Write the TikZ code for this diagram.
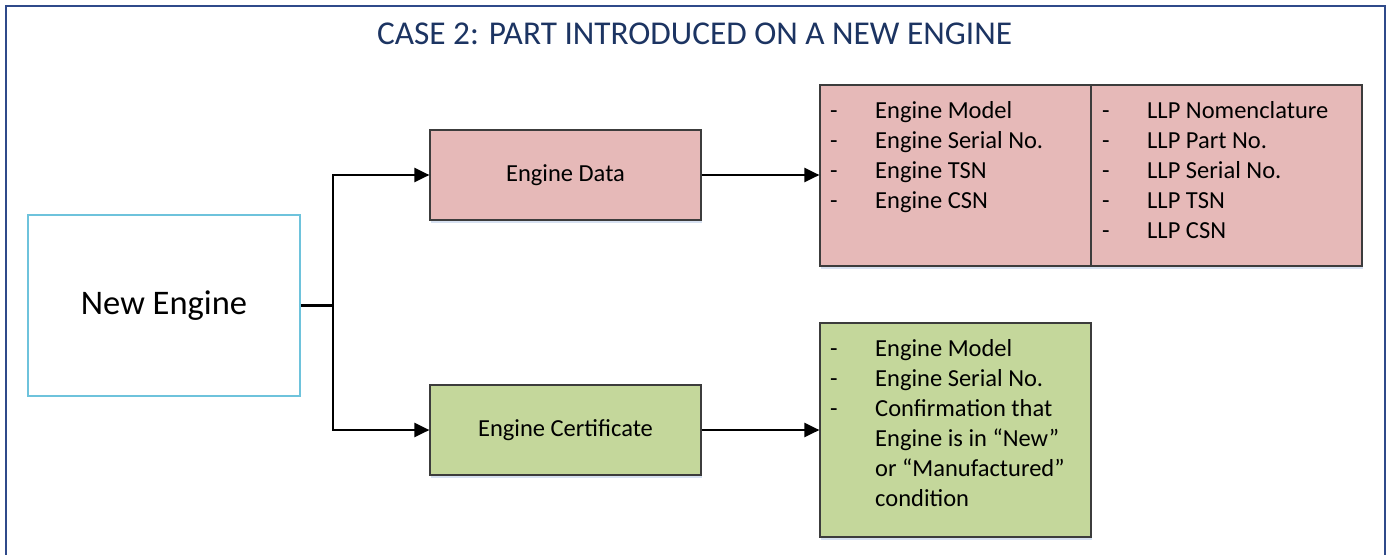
\documentclass[tikz,border=0pt]{standalone}
\usepackage{fontspec}
\setmainfont{Carlito}
\usetikzlibrary{arrows.meta,shadows}
\definecolor{framebl}{RGB}{47,74,138}
\definecolor{titlebl}{RGB}{28,52,98}
\definecolor{cyanline}{RGB}{110,195,220}
\definecolor{rosefill}{RGB}{230,185,184}
\definecolor{olivefill}{RGB}{196,215,155}
\definecolor{boxline}{RGB}{60,60,60}
\definecolor{shadowbl}{RGB}{205,218,238}
\newcommand{\bodyfont}{\fontsize{24.5}{30}\selectfont}
\begin{document}
\begin{tikzpicture}[x=1pt,y=-1pt,
  box/.style={draw=boxline, line width=1.2pt, inner sep=0pt,
    drop shadow={shadow xshift=1pt, shadow yshift=-3pt, fill=shadowbl, opacity=0.8}},
  stagebox/.style={box, minimum width=271pt, minimum height=90pt, font=\bodyfont,
    text height=17pt, text depth=5pt},
  listtext/.style={anchor=north west, inner sep=0pt, font=\bodyfont},
  link/.style={line width=2.4pt, -{Triangle[length=15pt,width=14pt]}},
  bus/.style={line width=2.4pt}]
\useasboundingbox (0,0) rectangle (1386,554);
\fill[white] (0,0) rectangle (1386,554);

% outer frame, open at the bottom
\draw[framebl, line width=2.5pt] (6,560) -- (6,6) -- (1385,6) -- (1385,560);

% title
\node[text=titlebl, font=\fontsize{33.3}{38}\selectfont] (title) at (694.5,34) {CASE 2: PART INTRODUCED ON A NEW ENGINE};

% source
\node[draw=cyanline, line width=1.6pt, minimum width=272pt, minimum height=181pt,
  font=\fontsize{34.5}{40}\selectfont] (engine) at (164,305.5) {New Engine};

% stages
\node[stagebox, fill=rosefill] (data) at (565.5,175) {Engine Data};
\node[stagebox, fill=olivefill] (cert) at (565.5,430) {Engine Certificate};

% detail boxes
\node[box, fill=rosefill, minimum width=542pt, minimum height=181pt] (datalist) at (1091,175.5) {};
\draw[boxline, line width=1.2pt] (datalist.north) -- (datalist.south);
\node[box, fill=olivefill, minimum width=271pt, minimum height=214pt] (certlist) at (955.5,430) {};

\node[listtext] (dataleft) at (830,97) {\begin{tabular}{@{}p{45pt}@{}l@{}}
- & Engine Model\\
- & Engine Serial No.\\
- & Engine TSN\\
- & Engine CSN
\end{tabular}};
\node[listtext] (dataright) at (1102,97) {\begin{tabular}{@{}p{45pt}@{}l@{}}
- & LLP Nomenclature\\
- & LLP Part No.\\
- & LLP Serial No.\\
- & LLP TSN\\
- & LLP CSN
\end{tabular}};
\node[listtext] (certtext) at (830,335) {\begin{tabular}{@{}p{45pt}@{}l@{}}
- & Engine Model\\
- & Engine Serial No.\\
- & Confirmation that\\
  & Engine is in “New”\\
  & or “Manufactured”\\
  & condition
\end{tabular}};

% connectors
\coordinate (split) at (333,305.5);
\draw[bus] (engine.east) -- (split);
\draw[link] (split) |- (data.west);
\draw[link] (split) |- (cert.west);
\draw[link] (data.east) -- (data.east -| datalist.west);
\draw[link] (cert.east) -- (cert.east -| certlist.west);
\end{tikzpicture}
\end{document}
